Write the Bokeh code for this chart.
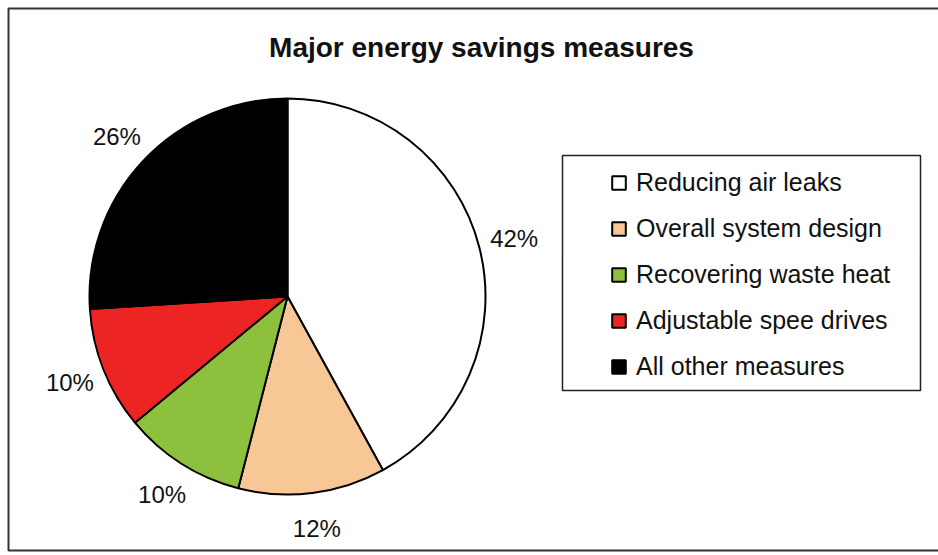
import numpy as np
from bokeh.plotting import figure
from bokeh.models import ColumnDataSource, Range1d, Label, BoxAnnotation
from bokeh.core.properties import value
from bokeh.embed import file_html
from bokeh.resources import INLINE

# ---- data ----
title_text = "Major energy savings measures"
categories = ["Reducing air leaks", "Overall system design", "Recovering waste heat",
              "Adjustable spee drives", "All other measures"]
shares = [42, 12, 10, 10, 26]
colors = ["#FFFFFF", "#F7C896", "#8DC03C", "#EC2424", "#000000"]

FONT = "Liberation Sans"
W, H = 938, 555

p = figure(width=W, height=H, x_range=Range1d(0, W), y_range=Range1d(0, H),
           output_backend="svg", toolbar_location=None, tools="", min_border=0)
p.axis.visible = False
p.grid.visible = False
p.outline_line_color = None
p.background_fill_color = "white"
p.border_fill_color = "white"

# outer frame of the chart area
p.add_layout(BoxAnnotation(left=8, right=W + 20, bottom=5, top=H - 8,
                           fill_color=None, fill_alpha=0,
                           line_color="#333333", line_alpha=1, line_width=2))

# pie
cx, cy, rad = 287, H - 296, 198
frac = np.array(shares, dtype=float) / sum(shares)
cum = np.concatenate([[0.0], np.cumsum(frac)])
start = np.pi / 2 - 2 * np.pi * cum[1:]
end = np.pi / 2 - 2 * np.pi * cum[:-1]
mid = (start + end) / 2

src = ColumnDataSource(dict(category=categories, share=shares, color=colors,
                            start=start, end=end,
                            x=[cx] * len(shares), y=[cy] * len(shares)))
p.wedge(x="x", y="y", radius=rad, start_angle="start", end_angle="end",
        fill_color="color", line_color="black", line_width=2,
        source=src, legend_field="category")

# percentage labels outside the pie
lr = 234
lab = ColumnDataSource(dict(x=cx + lr * np.cos(mid), y=cy + lr * np.sin(mid),
                            text=[f"{s}%" for s in shares]))
p.text(x="x", y="y", text="text", source=lab, text_font=value(FONT),
       text_font_size="24px", text_color="#111111",
       text_align="center", text_baseline="middle")

# title
p.add_layout(Label(x=481, y=H - 47, text=title_text, text_font=FONT,
                   text_font_style="bold", text_font_size="28px",
                   text_color="#111111", text_align="center",
                   text_baseline="middle"))

# legend box
p.add_layout(BoxAnnotation(left=562, right=920, bottom=H - 390, top=H - 155,
                           fill_color=None, fill_alpha=0,
                           line_color="#222222", line_alpha=1, line_width=1.5))

lg = p.legend[0]
lg.location = (610, 174)
lg.margin = 0
lg.padding = 0
lg.border_line_color = None
lg.background_fill_alpha = 0
lg.label_text_font = FONT
lg.label_text_font_size = "25px"
lg.label_text_color = "#111111"
lg.glyph_width = 17
lg.glyph_height = 17
lg.label_height = 28
lg.label_standoff = 9
lg.spacing = 17

open("out.html", "w").write(file_html(p, INLINE))
